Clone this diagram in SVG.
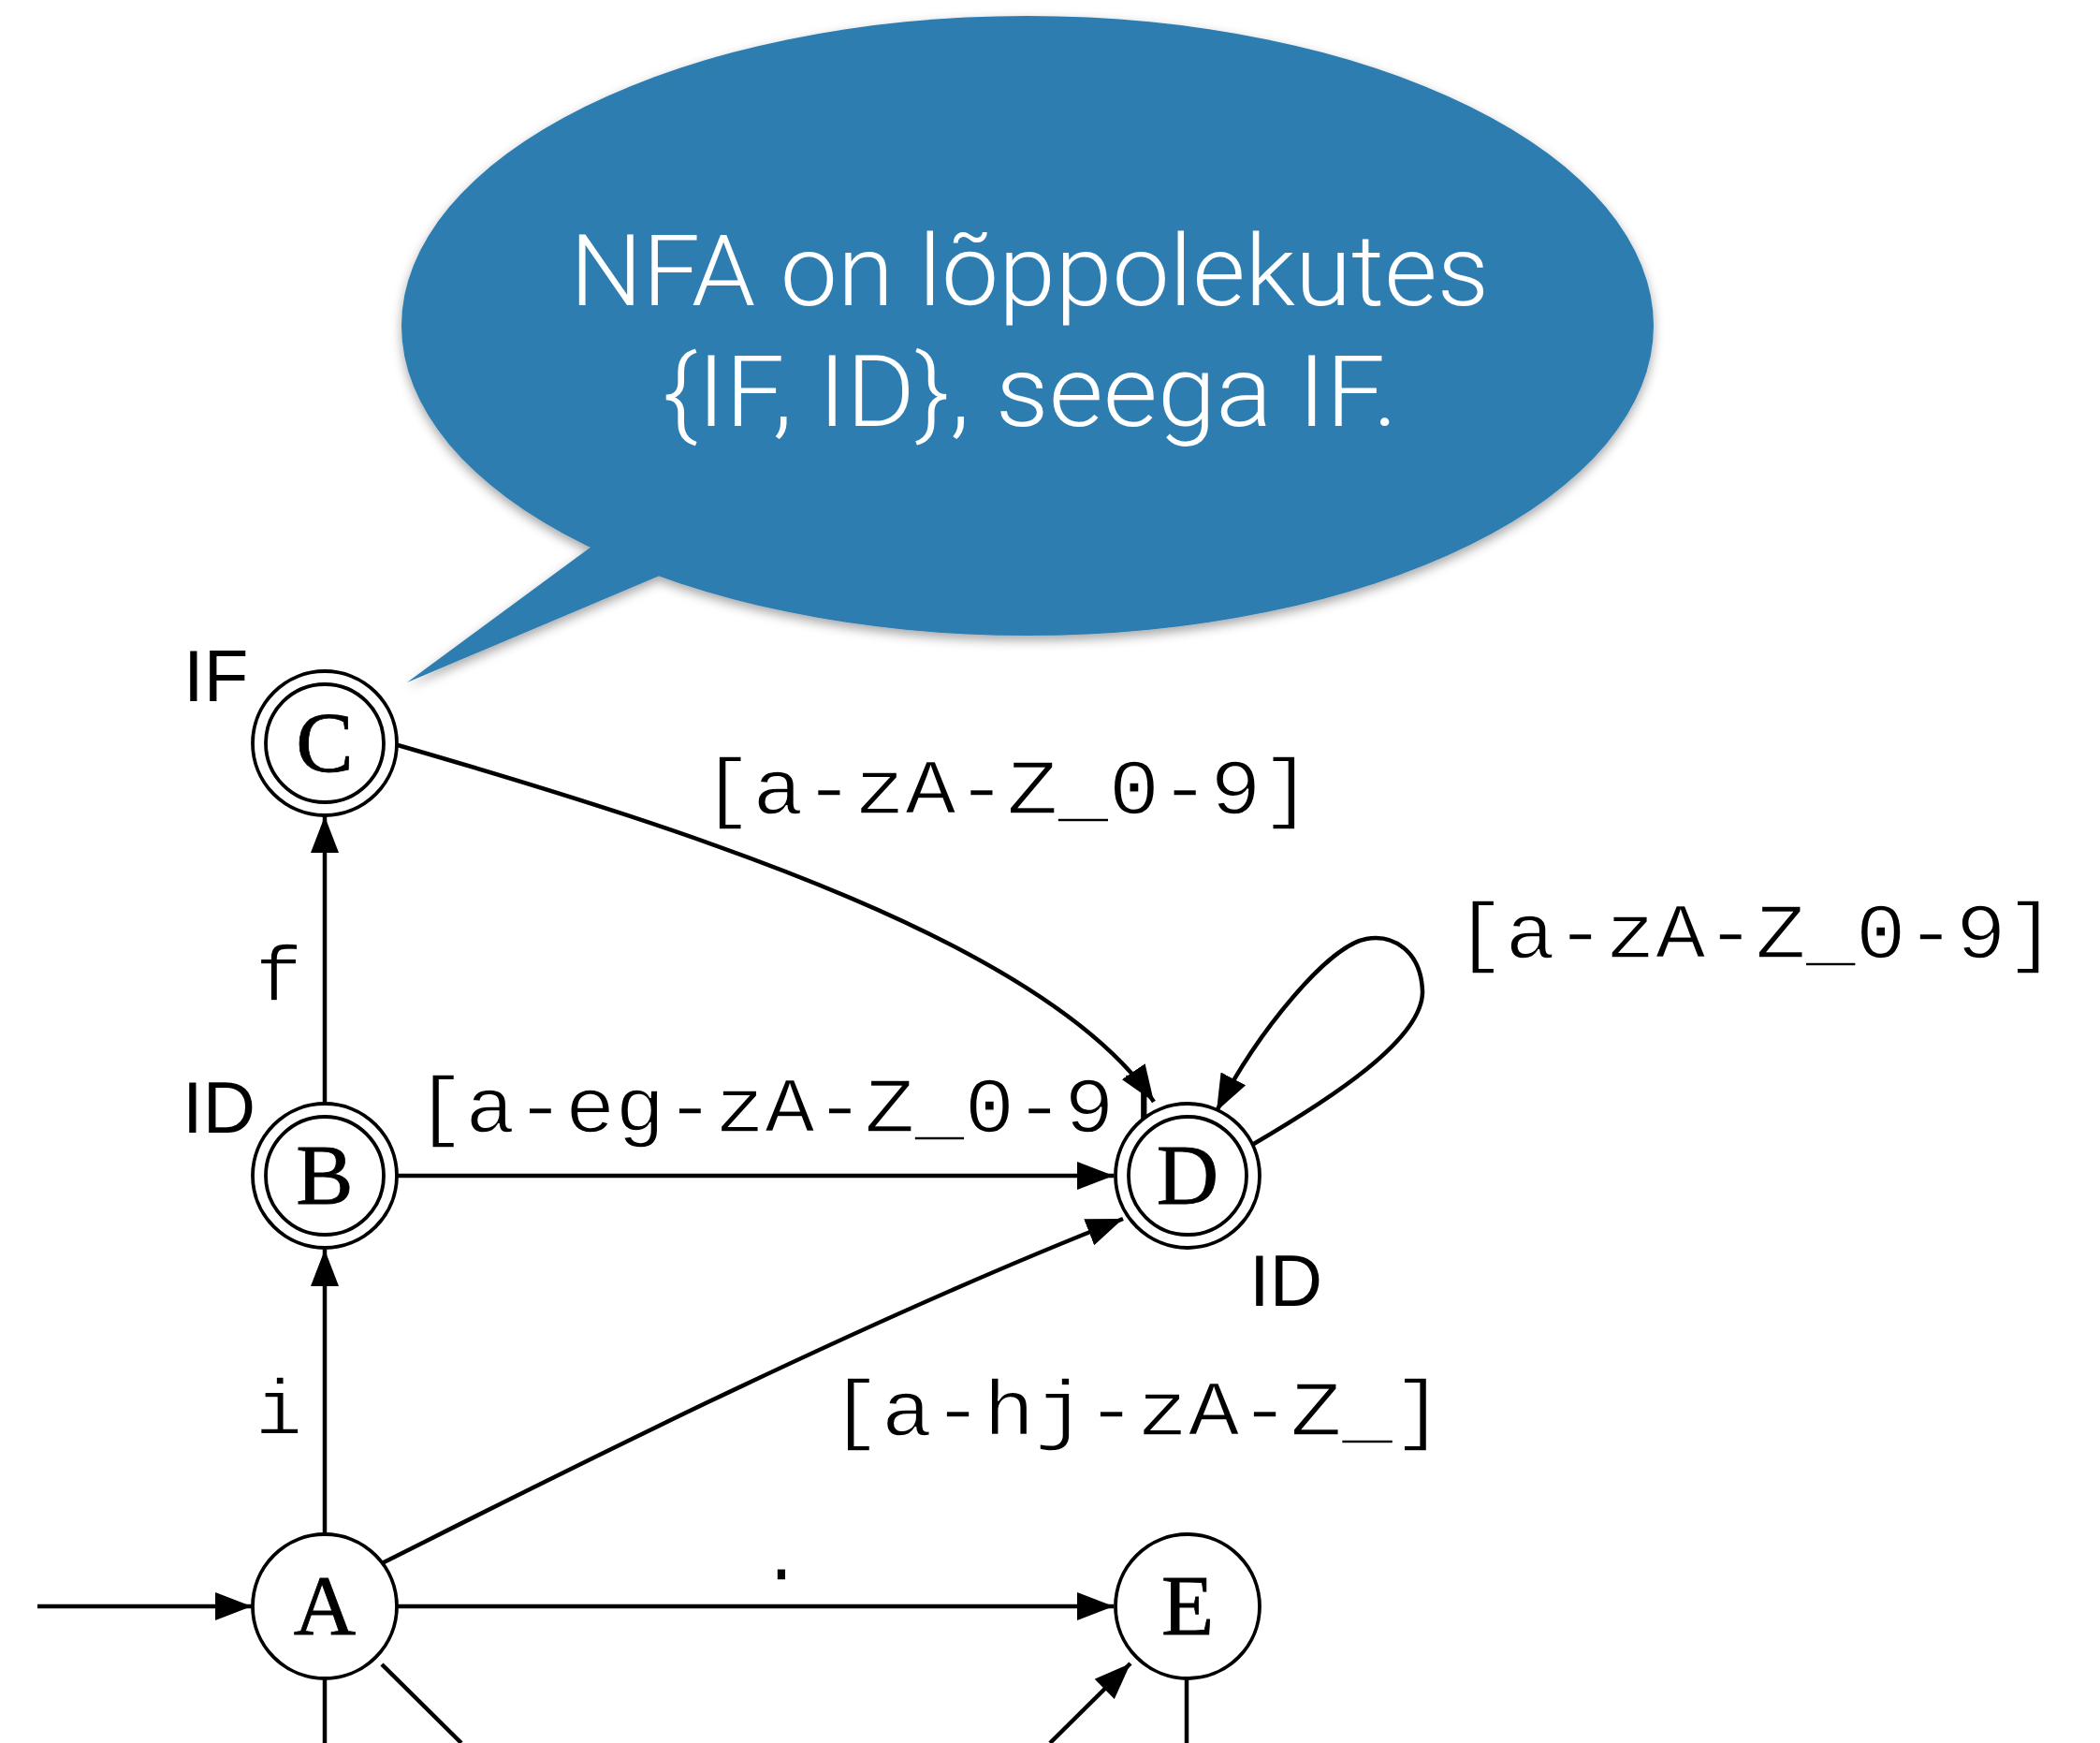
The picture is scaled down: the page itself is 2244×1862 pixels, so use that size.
<svg xmlns="http://www.w3.org/2000/svg" width="2244" height="1862" viewBox="0 0 2244 1862">
  <defs>
    <marker id="arrow" markerUnits="userSpaceOnUse" markerWidth="40" markerHeight="30" refX="39" refY="15" orient="auto" viewBox="0 0 40 30">
      <path d="M0,0 L39,15 L0,30 Z" fill="#000"/>
    </marker>
    <filter id="shadow" x="-10%" y="-10%" width="120%" height="125%">
      <feDropShadow dx="0" dy="5" stdDeviation="6" flood-color="#000" flood-opacity="0.35"/>
    </filter>
  </defs>
  <style>
    .state { fill: #fff; stroke: #000; stroke-width: 3.8; }
    .letter { font-family: "Liberation Serif", "Times New Roman", serif; font-size: 92px; text-anchor: middle; fill: #000; stroke: #000; stroke-width: 0.8; }
    .tag { font-family: "Liberation Sans", Arial, sans-serif; font-size: 78px; fill: #000; }
    .edge { fill: none; stroke: #000; stroke-width: 4.5; }
    .arrowed { marker-end: url(#arrow); }
    /* thin typewriter labels: a light white outline trims the glyph strokes */
    .elabel { font-family: "Liberation Mono", "Courier New", monospace; font-size: 84px; fill: #000; stroke: #fff; stroke-width: 1.4; }
    .say { font-family: Roboto, "Liberation Sans", sans-serif; font-weight: 300; font-size: 106px; fill: #fff; text-anchor: middle; }
  </style>

  <rect width="2244" height="1862" fill="#fff"/>

  <!-- speech bubble -->
  <g id="bubble">
    <g filter="url(#shadow)" fill="#2f7db1">
      <ellipse cx="1098" cy="348" rx="669" ry="331"/>
      <path d="M640,578 L435,729 L712,612 Z"/>
    </g>
    <text class="say" x="1100" y="326" textLength="982" lengthAdjust="spacingAndGlyphs">NFA on lõppolekutes</text>
    <text class="say" x="1101" y="455" textLength="786" lengthAdjust="spacingAndGlyphs">{IF, ID}, seega IF.</text>
  </g>

  <!-- transitions -->
  <g id="connectors">
    <!-- start arrow into A -->
    <line class="edge arrowed" x1="40" y1="1716" x2="269" y2="1716"/>
    <!-- A -> B (i) -->
    <line class="edge arrowed" x1="347" y1="1638" x2="347" y2="1335"/>
    <text class="elabel" x="298" y="1532" text-anchor="middle">i</text>
    <!-- B -> C (f) -->
    <line class="edge arrowed" x1="347" y1="1178" x2="347" y2="872"/>
    <text class="elabel" x="298" y="1069" text-anchor="middle">f</text>
    <!-- B -> D -->
    <line class="edge arrowed" x1="425" y1="1256" x2="1190" y2="1256"/>
    <text class="elabel" x="444" y="1209" textLength="800" lengthAdjust="spacingAndGlyphs">[a-eg-zA-Z_0-9]</text>
    <!-- C -> D -->
    <path class="edge arrowed" d="M425,796 C750,890 1120,1010 1233,1177"/>
    <text class="elabel" x="750" y="869" textLength="652" lengthAdjust="spacingAndGlyphs">[a-zA-Z_0-9]</text>
    <!-- D -> D loop -->
    <path class="edge arrowed" d="M1338,1223 C1420,1175 1522,1110 1520,1058 C1518,1015 1488,998 1460,1003 C1420,1010 1345,1100 1300,1187"/>
    <text class="elabel" x="1555" y="1023" textLength="642" lengthAdjust="spacingAndGlyphs">[a-zA-Z_0-9]</text>
    <!-- A -> D -->
    <path class="edge arrowed" d="M408,1670 C560,1594 900,1420 1200,1302"/>
    <text class="elabel" x="887" y="1533" textLength="656" lengthAdjust="spacingAndGlyphs">[a-hj-zA-Z_]</text>
    <!-- A -> E (.) -->
    <line class="edge arrowed" x1="425" y1="1716" x2="1190" y2="1716"/>
    <text class="elabel" x="835" y="1688" text-anchor="middle">.</text>
    <!-- continuing below -->
    <line class="edge" x1="347" y1="1794" x2="347" y2="1862"/>
    <line class="edge" x1="408" y1="1778" x2="493" y2="1862"/>
    <line class="edge arrowed" x1="1122" y1="1862" x2="1208" y2="1777"/>
    <line class="edge" x1="1268" y1="1794" x2="1268" y2="1862"/>
  </g>

  <!-- states -->
  <g id="node-C">
    <circle class="state" cx="347" cy="794" r="77"/>
    <circle class="state" cx="347" cy="794" r="63"/>
    <text class="letter" x="347" y="824">C</text>
    <text class="tag" x="196" y="749">IF</text>
  </g>
  <g id="node-B">
    <circle class="state" cx="347" cy="1256" r="77"/>
    <circle class="state" cx="347" cy="1256" r="63"/>
    <text class="letter" x="347" y="1286">B</text>
    <text class="tag" x="195" y="1210">ID</text>
  </g>
  <g id="node-D">
    <circle class="state" cx="1269" cy="1256" r="77"/>
    <circle class="state" cx="1269" cy="1256" r="63"/>
    <text class="letter" x="1269" y="1286">D</text>
    <text class="tag" x="1335" y="1395">ID</text>
  </g>
  <g id="node-A">
    <circle class="state" cx="347" cy="1716" r="77"/>
    <text class="letter" x="347" y="1746">A</text>
  </g>
  <g id="node-E">
    <circle class="state" cx="1269" cy="1716" r="77"/>
    <text class="letter" x="1269" y="1746">E</text>
  </g>
</svg>
